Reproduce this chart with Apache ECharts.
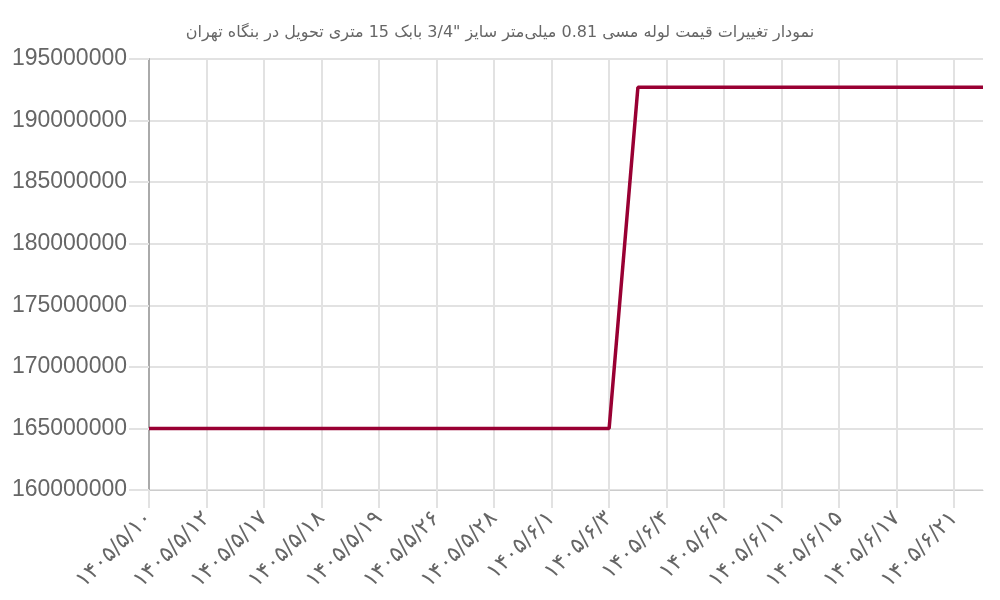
<!DOCTYPE html>
<html><head><meta charset="utf-8">
<script src="https://cdn.jsdelivr.net/npm/echarts@6/dist/echarts.min.js"></script>
<style>html,body{margin:0;padding:0;background:#fff}#c{width:1000px;height:600px}</style>
</head><body><div id="c"></div>
<script>
var chartTitle = 'نمودار تغییرات قیمت لوله مسی 0.81 میلی‌متر سایز "3/4 بابک 15 متری تحویل در بنگاه تهران';
var categories = [
  '۱۴۰۵/۵/۱۰','۱۴۰۵/۵/۱۱','۱۴۰۵/۵/۱۲','۱۴۰۵/۵/۱۵','۱۴۰۵/۵/۱۷','۱۴۰۵/۵/۱۷',
  '۱۴۰۵/۵/۱۸','۱۴۰۵/۵/۱۸','۱۴۰۵/۵/۱۹','۱۴۰۵/۵/۲۵','۱۴۰۵/۵/۲۶','۱۴۰۵/۵/۲۷',
  '۱۴۰۵/۵/۲۸','۱۴۰۵/۵/۳۱','۱۴۰۵/۶/۱','۱۴۰۵/۶/۲','۱۴۰۵/۶/۳','۱۴۰۵/۶/۳',
  '۱۴۰۵/۶/۴','۱۴۰۵/۶/۸','۱۴۰۵/۶/۹','۱۴۰۵/۶/۱۰','۱۴۰۵/۶/۱۱','۱۴۰۵/۶/۱۴',
  '۱۴۰۵/۶/۱۵','۱۴۰۵/۶/۱۶','۱۴۰۵/۶/۱۷','۱۴۰۵/۶/۱۸','۱۴۰۵/۶/۲۱','۱۴۰۵/۶/۲۲'
];
var prices = [
  165000000,165000000,165000000,165000000,165000000,165000000,
  165000000,165000000,165000000,165000000,165000000,165000000,
  165000000,165000000,165000000,165000000,165000000,192700000,
  192700000,192700000,192700000,192700000,192700000,192700000,
  192700000,192700000,192700000,192700000,192700000,192700000
];
var yMin = 160000000, yMax = 195000000, yStep = 5000000;

var chart = echarts.init(document.getElementById('c'));
chart.setOption({
  animation: false,
  title: {
    text: chartTitle, left: 'center', top: 20,
    textStyle: {fontFamily: 'DejaVu Sans', fontSize: 16, fontWeight: 'normal', color: '#666'}
  },
  grid: {left: 149, right: 17, top: 59, bottom: 110, containLabel: false, outerBoundsMode: 'none'},
  xAxis: {
    type: 'category', data: categories, boundaryGap: false,
    axisLine: {lineStyle: {color: '#ccc', width: 1}},
    axisTick: {show: true, interval: 1, length: 18, lineStyle: {color: '#e2e2e2', width: 2}},
    splitLine: {show: true, interval: 1, lineStyle: {color: '#e2e2e2', width: 2}},
    axisLabel: {interval: 1, rotate: 45, margin: 25, fontSize: 22, color: '#666', fontFamily: 'DejaVu Sans'}
  },
  yAxis: {
    type: 'value', min: yMin, max: yMax, interval: yStep,
    axisLine: {show: true, lineStyle: {color: '#aaa', width: 2}},
    axisTick: {show: true, length: 20, lineStyle: {color: '#e2e2e2', width: 2}},
    splitLine: {show: true, lineStyle: {color: '#e2e2e2', width: 2}},
    axisLabel: {fontSize: 23, color: '#666', margin: 22, fontFamily: 'Liberation Sans',
      padding: [4, 0, 0, 0],
      formatter: function (v) { return String(v); }}
  },
  series: [{
    type: 'line', data: prices, showSymbol: false, symbol: 'none',
    lineStyle: {color: '#990033', width: 3.5}, itemStyle: {color: '#990033'}
  }]
});
</script></body></html>
